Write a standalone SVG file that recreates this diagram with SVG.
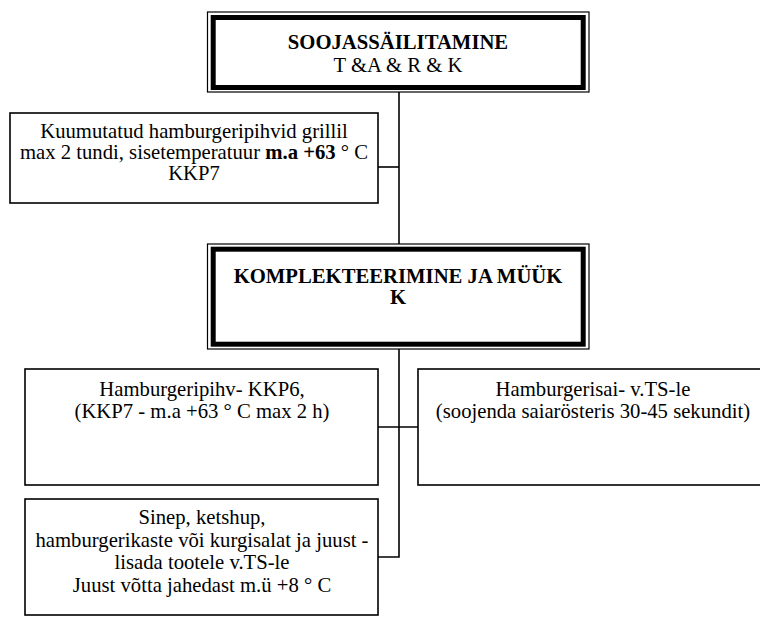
<svg xmlns="http://www.w3.org/2000/svg" width="760" height="621" viewBox="0 0 760 621">
<style>
.t{font-family:"Liberation Serif","Times New Roman","DejaVu Serif",serif;font-size:20.7px;fill:#000;text-anchor:middle}
.b{font-weight:bold}
.box{fill:#fff;stroke:#000;stroke-width:1.6}
.thin{fill:none;stroke:#000;stroke-width:1.2}
.thick{fill:#fff;stroke:#000;stroke-width:5}
.c{fill:none;stroke:#000;stroke-width:1.6}
</style>
<rect width="760" height="621" fill="#fff"/>
<g id="connectors">
<path class="c" d="M399 92V244"/>
<path class="c" d="M378 167H399"/>
<path class="c" d="M399 349V557H378"/>
<path class="c" d="M378 427H418"/>
</g>
<g id="soojassailitamine">
<rect class="thin" x="207.5" y="12" width="381.5" height="80"/>
<rect class="thick" x="213.2" y="17.5" width="370" height="70"/>
<text class="t b" x="398" y="49">SOOJASSÄILITAMINE</text>
<text class="t" x="398" y="72">T &amp;A &amp; R &amp; K</text>
</g>
<g id="kuumutatud">
<rect class="box" x="10" y="113" width="368" height="90"/>
<text class="t" x="194" y="138">Kuumutatud hamburgeripihvid grillil</text>
<text class="t" x="194" y="159">max 2 tundi, sisetemperatuur <tspan class="b">m.a +63</tspan> ° C</text>
<text class="t" x="194" y="180">KKP7</text>
</g>
<g id="komplekteerimine">
<rect class="thin" x="207.5" y="244" width="381.5" height="105"/>
<rect class="thick" x="213.2" y="249.2" width="370" height="95"/>
<text class="t b" x="398" y="283">KOMPLEKTEERIMINE JA MÜÜK</text>
<text class="t b" x="398" y="304">K</text>
</g>
<g id="pihv">
<rect class="box" x="25" y="369" width="353" height="116"/>
<text class="t" x="202" y="396">Hamburgeripihv- KKP6,</text>
<text class="t" x="202" y="418">(KKP7 - m.a +63 ° C max 2 h)</text>
</g>
<g id="sai">
<rect class="box" x="418" y="369" width="360" height="116"/>
<text class="t" x="593" y="396">Hamburgerisai- v.TS-le</text>
<text class="t" x="593" y="418">(soojenda saiarösteris 30-45 sekundit)</text>
</g>
<g id="lisandid">
<rect class="box" x="25" y="499" width="353" height="116"/>
<text class="t" x="202" y="524">Sinep, ketshup,</text>
<text class="t" x="202" y="547">hamburgerikaste või kurgisalat ja juust -</text>
<text class="t" x="202" y="569">lisada tootele v.TS-le</text>
<text class="t" x="202" y="592">Juust võtta jahedast m.ü +8 ° C</text>
</g>
</svg>
